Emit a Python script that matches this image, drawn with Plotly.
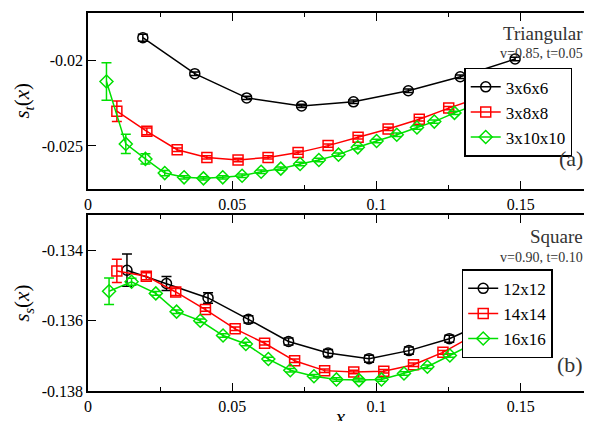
import plotly.graph_objects as go
from plotly.subplots import make_subplots

# ---- panel (a): triangular -----------------------------------------
tri_x_6 = [0.019, 0.037, 0.055, 0.074, 0.092, 0.111, 0.129, 0.148]
tri_y_6 = [-0.01865, -0.02076, -0.02218, -0.02265, -0.02241, -0.02176, -0.02094, -0.0199]
tri_e_6 = [0.0002, 0.0001, 0.0001, 0.0001, 0.0001, 0.0001, 0.0001, 0.0001]

tri_x_8 = [0.0100, 0.0204, 0.0309, 0.0412, 0.052, 0.0624, 0.0728, 0.0832,
           0.0936, 0.104, 0.1148, 0.125, 0.135, 0.145, 0.156]
tri_y_8 = [-0.02296, -0.02414, -0.02522, -0.02567, -0.02582, -0.02567, -0.02539,
           -0.02498, -0.02449, -0.024, -0.02343, -0.02278, -0.0222, -0.0216, -0.0210]
tri_e_8 = [0.0006, 0.0002, 0.0001, 0.0001, 0.0001, 0.0001, 0.0001, 0.0001,
           0.0001, 0.0001, 0.0001, 0.0001, 0.0001, 0.0001, 0.0001]

tri_x_10 = [0.0064, 0.0131, 0.0199, 0.0266, 0.0333, 0.040, 0.0467, 0.0534, 0.060,
            0.0668, 0.0735, 0.080, 0.0868, 0.0935, 0.100, 0.107, 0.114, 0.120,
            0.127, 0.134, 0.140, 0.147]
tri_y_10 = [-0.02122, -0.02488, -0.02576, -0.02659, -0.02684, -0.0269, -0.02684,
            -0.02675, -0.02651, -0.02633, -0.02606, -0.02582, -0.02551, -0.02508,
            -0.02471, -0.02434, -0.02392, -0.02357, -0.02306, -0.0226, -0.0222, -0.0218]
tri_e_10 = [0.0011, 0.00056, 0.0003, 0.00015] + [0.0001] * 18

# ---- panel (b): square ---------------------------------------------
sq_x_12 = [0.0135, 0.0272, 0.0416, 0.0556, 0.0695, 0.0832, 0.0974, 0.1112, 0.1252, 0.139]
sq_y_12 = [-0.13456, -0.13494, -0.13535, -0.13596, -0.13659, -0.13692, -0.13708,
           -0.13685, -0.13651, -0.1360]
sq_e_12 = [0.00046, 0.0002, 0.00015, 0.0001, 0.0001, 0.0001, 0.0001, 0.0001, 0.0001, 0.0001]

sq_x_14 = [0.0100, 0.0202, 0.0304, 0.0407, 0.051, 0.0612, 0.0716, 0.082, 0.0921,
           0.1025, 0.1128, 0.123, 0.1333, 0.1435]
sq_y_14 = [-0.13458, -0.13473, -0.13518, -0.13568, -0.13623, -0.13664, -0.13714,
           -0.13742, -0.13746, -0.13744, -0.13725, -0.1369, -0.13643, -0.1359]
sq_e_14 = [0.00033, 0.0001, 0.0001] + [0.00005] * 11

sq_x_16 = [0.0073, 0.0151, 0.0235, 0.0307, 0.0389, 0.0468, 0.0547, 0.0625, 0.0701,
           0.0783, 0.0861, 0.0939, 0.1017, 0.1095, 0.1176, 0.1254, 0.1332, 0.141]
sq_y_16 = [-0.13516, -0.13489, -0.13522, -0.13574, -0.136, -0.13642, -0.13666,
           -0.13709, -0.13741, -0.13758, -0.13767, -0.13769, -0.13767, -0.1375,
           -0.13731, -0.13699, -0.13666, -0.13602]
sq_e_16 = [0.00038, 0.0001] + [0.00005] * 16

BLACK, RED, GREEN = "#000000", "#ff0000", "#00e000"
FONT = "Liberation Serif"

fig = make_subplots(rows=2, cols=1, vertical_spacing=0.071)


def add_series(x, y, e, name, color, symbol, row, legend):
    fig.add_trace(
        go.Scatter(
            x=x, y=y, mode="lines+markers", name=name,
            line=dict(color=color, width=1.5),
            marker=dict(symbol=symbol, size=10, color=color,
                        line=dict(color=color, width=1.5)),
            error_y=dict(type="data", array=e, color=color, thickness=1.5, width=5),
            legend=legend,
        ),
        row=row, col=1,
    )


add_series(tri_x_6, tri_y_6, tri_e_6, "3x6x6", BLACK, "circle-open", 1, "legend")
add_series(tri_x_8, tri_y_8, tri_e_8, "3x8x8", RED, "square-open", 1, "legend")
add_series(tri_x_10, tri_y_10, tri_e_10, "3x10x10", GREEN, "diamond-open", 1, "legend")
add_series(sq_x_12, sq_y_12, sq_e_12, "12x12", BLACK, "circle-open", 2, "legend2")
add_series(sq_x_14, sq_y_14, sq_e_14, "14x14", RED, "square-open", 2, "legend2")
add_series(sq_x_16, sq_y_16, sq_e_16, "16x16", GREEN, "diamond-open", 2, "legend2")

axis_style = dict(showgrid=False, zeroline=False, ticks="inside", mirror="allticks",
                  showline=True, linecolor="black", linewidth=1.5, ticklen=8,
                  tickcolor="black", automargin=False,
                  tickfont=dict(size=16, family=FONT, color="black"))
fig.update_xaxes(range=[0, 0.175], tickvals=[0, 0.05, 0.1, 0.15],
                 ticktext=["0", "0.05", "0.1", "0.15"],
                 minor=dict(ticks="inside", ticklen=4, dtick=0.025), **axis_style)
fig.update_xaxes(title=dict(text="<i>x</i>", font=dict(size=21, family=FONT), standoff=0),
                 row=2, col=1)
fig.update_yaxes(**axis_style)
fig.update_yaxes(range=[-0.0275, -0.0172], tickvals=[-0.02, -0.025], ticktext=["-0.02", "-0.025"],
                 title=dict(text="<i>s<sub>t</sub></i>(<i>x</i>)", font=dict(size=21, family=FONT),
                            standoff=6),
                 row=1, col=1)
fig.update_yaxes(range=[-0.138, -0.133], tickvals=[-0.134, -0.136, -0.138],
                 ticktext=["-0.134", "-0.136", "-0.138"],
                 title=dict(text="<i>s<sub>s</sub></i>(<i>x</i>)", font=dict(size=21, family=FONT),
                            standoff=6),
                 row=2, col=1)

leg = dict(bgcolor="white", bordercolor="black", borderwidth=1.5,
           font=dict(size=17, family=FONT, color="black"), xanchor="left", yanchor="top",
           tracegroupgap=0, itemwidth=30)
fig.update_layout(
    width=592, height=421, template="simple_white",
    plot_bgcolor="white", paper_bgcolor="white",
    margin=dict(l=80, r=7, t=5, b=38),
    font=dict(family=FONT, color="black"),
    showlegend=True,
    legend=dict(x=0.745, y=0.855, **leg),
    legend2=dict(x=0.74, y=0.322, **leg),
)

notes = [
    ("Triangular", 0.985, 0.947, 19), ("v=0.85, t=0.05", 0.985, 0.894, 14),
    ("(a)", 0.985, 0.616, 22),
    ("Square", 0.985, 0.41, 19), ("v=0.90, t=0.10", 0.985, 0.352, 14),
    ("(b)", 0.985, 0.069, 22),
]
for text, x, y, size in notes:
    fig.add_annotation(text=text, x=x, y=y, xref="paper", yref="paper",
                       xanchor="right", yanchor="middle", showarrow=False,
                       font=dict(size=size, family=FONT, color="#333333"))

fig.write_html("out.html")
